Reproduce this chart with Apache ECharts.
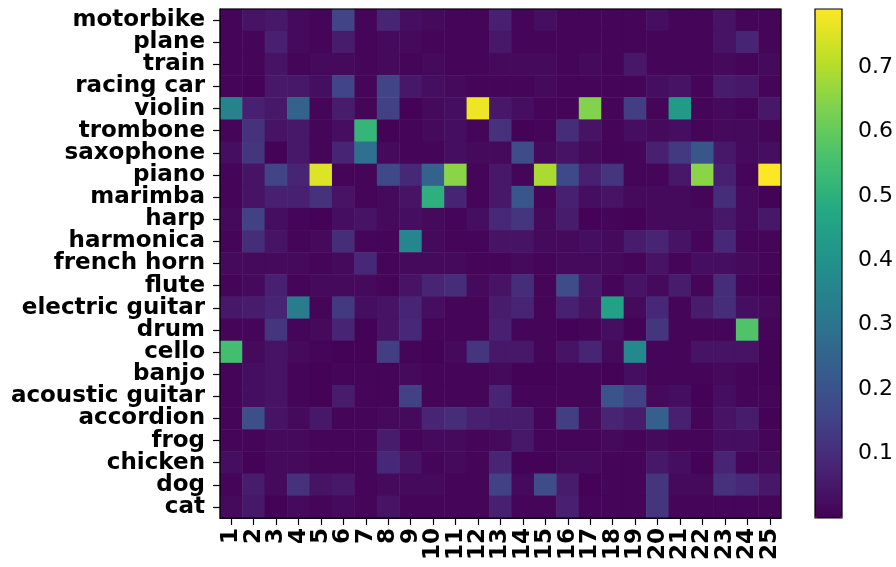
<!DOCTYPE html>
<html>
<head>
<meta charset="utf-8">
<script src="https://cdn.jsdelivr.net/npm/echarts@6/dist/echarts.min.js"></script>
<style>html,body{margin:0;padding:0;background:#fff}#c{width:896px;height:567px}</style>
</head>
<body>
<div id="c"></div>
<script>
const columns = ['1','2','3','4','5','6','7','8','9','10','11','12','13','14','15','16','17','18','19','20','21','22','23','24','25'];
const categories = ['motorbike','plane','train','racing car','violin','trombone','saxophone','piano','marimba','harp','harmonica','french horn','flute','electric guitar','drum','cello','banjo','acoustic guitar','accordion','frog','chicken','dog','cat'];
const colorbarTicks = [0.1, 0.2, 0.3, 0.4, 0.5, 0.6, 0.7];
const valueMin = 0.0;
const valueMax = 0.79;

const motorbike      = [0.01,0.04,0.05,0.02,0.01,0.16,0.01,0.08,0.03,0.02,0.01,0.01,0.07,0.01,0.03,0.01,0.01,0.01,0.01,0.03,0.01,0.01,0.04,0.01,0.01];
const plane          = [0.01,0.01,0.07,0.02,0.01,0.06,0.01,0.02,0.02,0.01,0.01,0.01,0.05,0.01,0.01,0.01,0.01,0.01,0.01,0.01,0.01,0.01,0.04,0.08,0.01];
const train          = [0.01,0.01,0.04,0.01,0.02,0.02,0.01,0.02,0.01,0.02,0.01,0.01,0.02,0.02,0.02,0.01,0.02,0.01,0.05,0.01,0.01,0.01,0.02,0.01,0.02];
const racingCar      = [0.01,0.005,0.05,0.05,0.03,0.16,0.01,0.16,0.05,0.03,0.02,0.01,0.01,0.01,0.02,0.01,0.01,0.01,0.01,0.03,0.04,0.01,0.06,0.05,0.01];
const violin         = [0.35,0.07,0.05,0.25,0.01,0.06,0.01,0.15,0.005,0.02,0.03,0.77,0.05,0.03,0.01,0.01,0.64,0.01,0.14,0.01,0.43,0.01,0.02,0.01,0.05];
const trombone       = [0.01,0.11,0.04,0.05,0.01,0.03,0.52,0.005,0.01,0.02,0.03,0.01,0.11,0.005,0.01,0.1,0.04,0.01,0.03,0.02,0.03,0.01,0.02,0.02,0.01];
const saxophone      = [0.03,0.12,0.005,0.05,0.01,0.08,0.29,0.02,0.01,0.01,0.03,0.02,0.02,0.18,0.02,0.04,0.02,0.01,0.01,0.07,0.13,0.21,0.05,0.02,0.03];
const piano          = [0.01,0.04,0.16,0.08,0.75,0.01,0.01,0.17,0.09,0.245,0.65,0.01,0.05,0.01,0.69,0.17,0.07,0.12,0.01,0.01,0.05,0.65,0.07,0.01,0.79];
const marimba        = [0.01,0.04,0.07,0.07,0.11,0.04,0.01,0.02,0.04,0.50,0.08,0.01,0.05,0.21,0.01,0.07,0.03,0.04,0.02,0.02,0.02,0.01,0.1,0.02,0.005];
const harp           = [0.02,0.15,0.03,0.01,0.005,0.03,0.04,0.02,0.03,0.02,0.01,0.03,0.09,0.12,0.02,0.06,0.005,0.01,0.005,0.02,0.02,0.02,0.05,0.02,0.05];
const harmonica      = [0.01,0.1,0.04,0.01,0.02,0.1,0.01,0.01,0.36,0.02,0.01,0.01,0.04,0.04,0.02,0.02,0.03,0.02,0.06,0.08,0.04,0.01,0.09,0.01,0.01];
const frenchHorn     = [0.02,0.02,0.02,0.02,0.01,0.02,0.09,0.01,0.02,0.02,0.02,0.01,0.01,0.02,0.01,0.02,0.02,0.02,0.01,0.04,0.01,0.03,0.03,0.02,0.01];
const flute          = [0.01,0.02,0.07,0.01,0.02,0.02,0.02,0.01,0.04,0.08,0.1,0.02,0.04,0.1,0.01,0.18,0.05,0.01,0.04,0.02,0.06,0.01,0.1,0.01,0.005];
const electricGuitar = [0.05,0.06,0.08,0.33,0.01,0.13,0.03,0.04,0.08,0.03,0.01,0.01,0.06,0.08,0.01,0.07,0.04,0.45,0.02,0.09,0.01,0.06,0.1,0.03,0.02];
const drum           = [0.01,0.01,0.12,0.01,0.02,0.08,0.005,0.04,0.09,0.01,0.01,0.01,0.07,0.01,0.01,0.005,0.01,0.03,0.005,0.12,0.01,0.01,0.01,0.57,0.01];
const cello          = [0.55,0.02,0.04,0.02,0.01,0.005,0.005,0.14,0.01,0.005,0.02,0.12,0.05,0.05,0.01,0.04,0.08,0.02,0.37,0.01,0.01,0.04,0.04,0.04,0.005];
const banjo          = [0.01,0.03,0.04,0.01,0.005,0.01,0.01,0.01,0.02,0.01,0.01,0.01,0.02,0.005,0.005,0.01,0.01,0.005,0.03,0.01,0.01,0.01,0.02,0.01,0.005];
const acousticGuitar = [0.01,0.03,0.04,0.01,0.005,0.06,0.01,0.01,0.15,0.01,0.01,0.01,0.08,0.01,0.01,0.01,0.01,0.20,0.15,0.02,0.03,0.005,0.03,0.01,0.01];
const accordion      = [0.01,0.19,0.04,0.02,0.05,0.01,0.01,0.02,0.02,0.08,0.1,0.07,0.06,0.06,0.01,0.14,0.02,0.08,0.06,0.24,0.07,0.01,0.04,0.06,0.005];
const frog           = [0.01,0.01,0.02,0.02,0.01,0.01,0.01,0.06,0.01,0.02,0.02,0.01,0.02,0.05,0.01,0.01,0.01,0.02,0.01,0.02,0.01,0.01,0.03,0.03,0.01];
const chicken        = [0.03,0.005,0.02,0.02,0.01,0.01,0.01,0.09,0.04,0.01,0.02,0.01,0.08,0.005,0.005,0.02,0.02,0.01,0.01,0.05,0.03,0.005,0.08,0.01,0.02];
const dog            = [0.01,0.06,0.02,0.11,0.04,0.05,0.01,0.02,0.02,0.02,0.01,0.01,0.15,0.02,0.18,0.06,0.005,0.01,0.01,0.12,0.02,0.02,0.11,0.09,0.05];
const cat            = [0.02,0.05,0.005,0.02,0.01,0.02,0.01,0.04,0.01,0.01,0.01,0.01,0.07,0.01,0.01,0.07,0.01,0.01,0.01,0.12,0.01,0.01,0.01,0.01,0.01];

const rows = [motorbike, plane, train, racingCar, violin, trombone, saxophone, piano, marimba, harp, harmonica, frenchHorn, flute, electricGuitar, drum, cello, banjo, acousticGuitar, accordion, frog, chicken, dog, cat];

const viridis = ['#440154','#482475','#414487','#355f8d','#2a788e','#21918c','#22a884','#44bf70','#7ad151','#bddf26','#fde725'];

const data = [];
rows.forEach((row, yi) => row.forEach((v, xi) => data.push([xi, yi, v])));

const labelFont = { fontFamily: 'DejaVu Sans', fontWeight: 'bold', fontSize: 23, color: '#000' };

const chart = echarts.init(document.getElementById('c'), null, { renderer: 'canvas' });
chart.setOption({
  animation: false,
  backgroundColor: '#fff',
  grid: [
    { left: 220, top: 9, width: 561, height: 509, show: true, borderColor: '#000', borderWidth: 1.2, backgroundColor: 'transparent', z: 10 },
    { left: 815, top: 9, width: 27, height: 509, show: true, borderColor: '#000', borderWidth: 1.2, backgroundColor: 'transparent', z: 10 }
  ],
  xAxis: [
    {
      type: 'category', data: columns, gridIndex: 0,
      axisLine: { show: true, lineStyle: { color: '#000', width: 1.2 } },
      axisTick: { show: true, alignWithLabel: true, length: 7, lineStyle: { color: '#000', width: 1.2 } },
      axisLabel: Object.assign({ rotate: 90, margin: 10, interval: 0 }, labelFont),
      splitLine: { show: false }
    },
    { type: 'value', gridIndex: 1, show: false, min: 0, max: 1 }
  ],
  yAxis: [
    {
      type: 'category', data: categories, inverse: true, gridIndex: 0,
      axisLine: { show: true, lineStyle: { color: '#000', width: 1.2 } },
      axisTick: { show: true, alignWithLabel: true, length: 7, lineStyle: { color: '#000', width: 1.2 } },
      axisLabel: Object.assign({ margin: 15, interval: 0 }, labelFont),
      splitLine: { show: false }
    },
    {
      type: 'value', gridIndex: 1, position: 'right', min: valueMin, max: valueMax,
      axisLine: { show: false },
      axisTick: { show: true, length: 6, customValues: colorbarTicks, lineStyle: { color: '#000', width: 1.2 } },
      axisLabel: { show: true, margin: 16, customValues: colorbarTicks, formatter: v => v.toFixed(1), fontFamily: 'DejaVu Sans', fontSize: 22, color: '#000' },
      splitLine: { show: false }
    }
  ],
  visualMap: {
    type: 'continuous', min: valueMin, max: valueMax, calculable: false,
    left: 815, top: 9, itemWidth: 27, itemHeight: 509, padding: 0,
    text: null, showLabel: false, seriesIndex: 0,
    inRange: { color: viridis }
  },
  series: [{
    type: 'heatmap', xAxisIndex: 0, yAxisIndex: 0, data: data,
    emphasis: { disabled: true }, progressive: 0
  }]
});
</script>
</body>
</html>
